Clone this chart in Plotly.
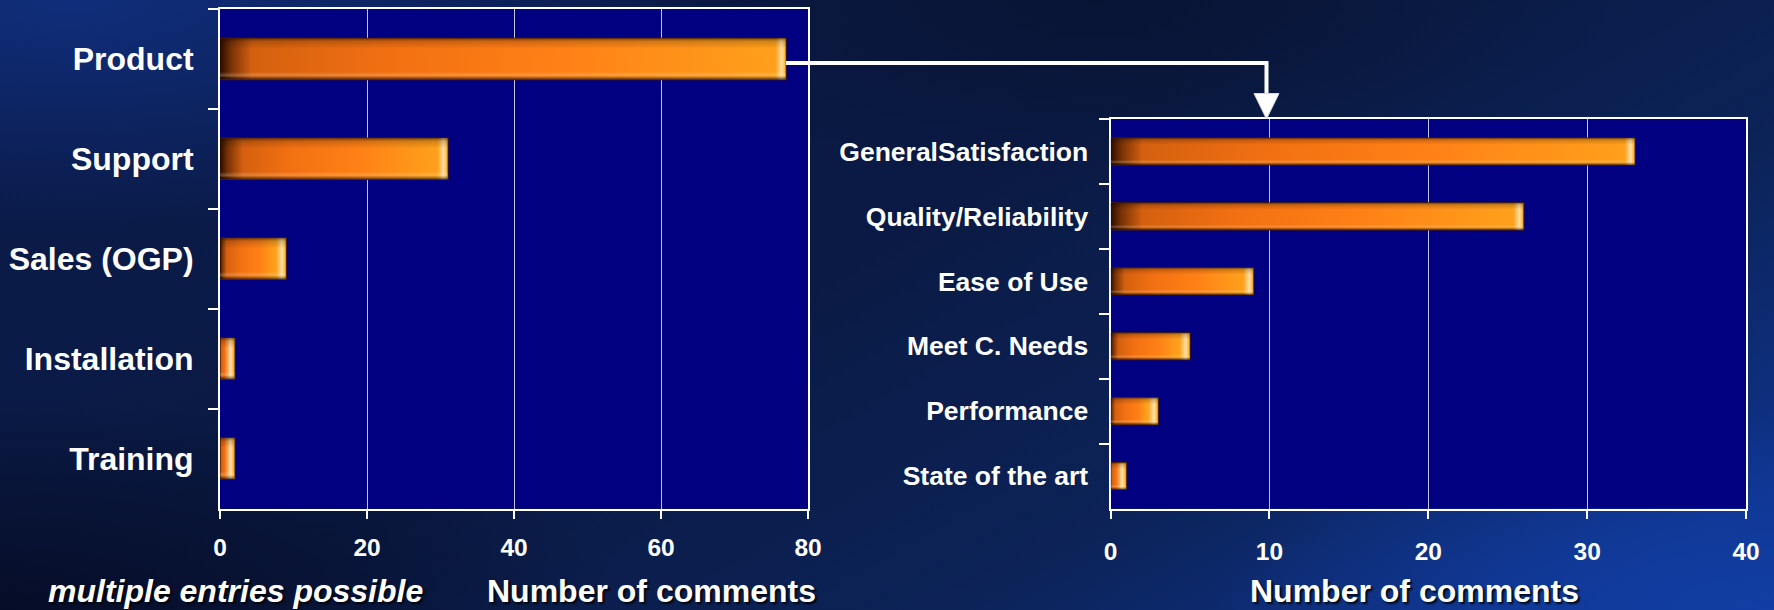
import base64
import plotly.graph_objects as go

# ---------------- data ----------------
main_categories = ["Product", "Support", "Sales (OGP)", "Installation", "Training"]
main_counts = [77, 31, 9, 2, 2]
main_ticks = [0, 20, 40, 60, 80]

product_categories = ["GeneralSatisfaction", "Quality/Reliability", "Ease of Use",
                      "Meet C. Needs", "Performance", "State of the art"]
product_counts = [33, 26, 9, 5, 3, 1]
product_ticks = [0, 10, 20, 30, 40]

x_title = "Number of comments"
note_text = "multiple entries possible"

# ---------------- geometry (pixels) ----------------
W, H = 1774, 610
L_X = (220, 808)
L_Y = (9, 508.5)
R_X = (1110.5, 1746)
R_Y = (119, 508.5)
BARGAP = 0.59


def px_x(v):
    return v / W


def px_y(v):
    return 1 - v / H


FONT = "Arial, 'Liberation Sans', Helvetica, sans-serif"
BAR_COLOR = "#f27614"
BAR_LINE = "#4a1f00"
PLOT_BG = "#000080"
GRID = "#c4c4ec"


def svg_uri(svg):
    return "data:image/svg+xml;base64," + base64.b64encode(svg.encode()).decode()


# ---------------- background gradient (SVG) ----------------
bg_svg = f"""<svg xmlns='http://www.w3.org/2000/svg' width='{W}' height='{H}' viewBox='0 0 {W} {H}' preserveAspectRatio='none'>
<defs>
<linearGradient id='base' x1='0' y1='0.2' x2='1' y2='0.8'>
<stop offset='0' stop-color='#0b1a48'/>
<stop offset='0.45' stop-color='#0a1a44'/>
<stop offset='0.75' stop-color='#0c2358'/>
<stop offset='1' stop-color='#0f338c'/>
</linearGradient>
<radialGradient id='tl' cx='0.04' cy='0.0' r='0.38'>
<stop offset='0' stop-color='#103080' stop-opacity='0.9'/>
<stop offset='1' stop-color='#103080' stop-opacity='0'/>
</radialGradient>
<radialGradient id='bl' cx='0.0' cy='1.0' r='0.35'>
<stop offset='0' stop-color='#050a22' stop-opacity='0.85'/>
<stop offset='1' stop-color='#050a22' stop-opacity='0'/>
</radialGradient>
<radialGradient id='br' cx='1.0' cy='1.0' r='0.32'>
<stop offset='0' stop-color='#1240a8' stop-opacity='0.85'/>
<stop offset='1' stop-color='#1240a8' stop-opacity='0'/>
</radialGradient>
<radialGradient id='tm' cx='0.62' cy='0.0' r='0.3'>
<stop offset='0' stop-color='#08122e' stop-opacity='0.7'/>
<stop offset='1' stop-color='#08122e' stop-opacity='0'/>
</radialGradient>
</defs>
<rect width='{W}' height='{H}' fill='url(#base)'/>
<rect width='{W}' height='{H}' fill='url(#tl)'/>
<rect width='{W}' height='{H}' fill='url(#bl)'/>
<rect width='{W}' height='{H}' fill='url(#br)'/>
<rect width='{W}' height='{H}' fill='url(#tm)'/>
</svg>"""


# ---------------- cylinder-like texture for the bars ----------------
def bar_texture(length_px, thick_px):
    Lp = max(length_px, 2.0)
    T = thick_px
    dark = min(32.0, 0.1 * Lp)
    body = max(dark + 1, 0.3 * Lp)
    warm = max(body + 1, Lp - 12)
    cap0 = max(0.0, Lp - 10)
    return f"""<svg xmlns='http://www.w3.org/2000/svg' width='{Lp:.1f}' height='{T:.1f}' viewBox='0 0 {Lp:.1f} {T:.1f}' preserveAspectRatio='none'>
<defs>
<linearGradient id='h' gradientUnits='userSpaceOnUse' x1='0' y1='0' x2='{Lp:.1f}' y2='0'>
<stop offset='0' stop-color='#2a0c00'/>
<stop offset='{dark * 0.35 / Lp:.4f}' stop-color='#7a3206'/>
<stop offset='{dark / Lp:.4f}' stop-color='#d4600f'/>
<stop offset='{body / Lp:.4f}' stop-color='#f27012'/>
<stop offset='{min(0.99, max(body / Lp, 0.6)):.4f}' stop-color='#ff8016'/>
<stop offset='{warm / Lp:.4f}' stop-color='#ffa01c'/>
<stop offset='1' stop-color='#ffb024'/>
</linearGradient>
<linearGradient id='v' x1='0' y1='0' x2='0' y2='1'>
<stop offset='0' stop-color='#000000' stop-opacity='0.5'/>
<stop offset='0.07' stop-color='#000000' stop-opacity='0.18'/>
<stop offset='0.25' stop-color='#000000' stop-opacity='0'/>
<stop offset='0.82' stop-color='#ffffff' stop-opacity='0'/>
<stop offset='0.9' stop-color='#ffe6a0' stop-opacity='0.25'/>
<stop offset='0.96' stop-color='#000000' stop-opacity='0.3'/>
<stop offset='1' stop-color='#000000' stop-opacity='0.65'/>
</linearGradient>
<linearGradient id='c' gradientUnits='userSpaceOnUse' x1='{cap0:.1f}' y1='0' x2='{Lp:.1f}' y2='0'>
<stop offset='0' stop-color='#fff2d6' stop-opacity='0'/>
<stop offset='0.6' stop-color='#fff2d6' stop-opacity='0.75'/>
<stop offset='0.85' stop-color='#ffe0a0' stop-opacity='0.3'/>
<stop offset='1' stop-color='#7a3a00' stop-opacity='0.8'/>
</linearGradient>
</defs>
<rect x='0' y='0' width='{Lp:.1f}' height='{T:.1f}' fill='url(#h)'/>
<rect x='{cap0:.1f}' y='0' width='{Lp - cap0:.1f}' height='{T:.1f}' fill='url(#c)'/>
<rect x='0' y='0' width='{Lp:.1f}' height='{T:.1f}' fill='url(#v)'/>
</svg>"""


# ---------------- figure ----------------
fig = go.Figure()

fig.add_trace(go.Bar(
    x=main_counts, y=main_categories, orientation="h",
    marker=dict(color=BAR_COLOR, line=dict(color=BAR_LINE, width=1.5)),
    xaxis="x", yaxis="y", showlegend=False, hoverinfo="x+y",
))
fig.add_trace(go.Bar(
    x=product_counts, y=product_categories, orientation="h",
    marker=dict(color=BAR_COLOR, line=dict(color=BAR_LINE, width=1.5)),
    xaxis="x2", yaxis="y2", showlegend=False, hoverinfo="x+y",
))

axis_common = dict(
    showline=True, linecolor="white", linewidth=2, mirror=True,
    ticks="outside", tickcolor="white", tickwidth=2,
    zeroline=False, automargin=False,
)

images = [dict(source=svg_uri(bg_svg), xref="paper", yref="paper", x=0, y=1,
               sizex=1, sizey=1, xanchor="left", yanchor="top",
               sizing="stretch", layer="below")]

# textures laid over each bar, placed through the axes from the data values
bar_thick = 1 - BARGAP
for cats, vals, ticks, (x0p, x1p), (y0p, y1p), xr, yr in (
        (main_categories, main_counts, main_ticks, L_X, L_Y, "x", "y"),
        (product_categories, product_counts, product_ticks, R_X, R_Y, "x2", "y2")):
    band_px = (y1p - y0p) / len(cats)
    for i, v in enumerate(vals):
        length_px = v / ticks[-1] * (x1p - x0p)
        images.append(dict(
            source=svg_uri(bar_texture(length_px, bar_thick * band_px)),
            xref=xr, yref=yr, x=0, y=i, sizex=v, sizey=bar_thick,
            xanchor="left", yanchor="middle", sizing="stretch", layer="above"))

fig.update_layout(
    width=W, height=H,
    autosize=False,
    margin=dict(l=0, r=0, t=0, b=0, pad=0, autoexpand=False),
    paper_bgcolor="#0a1a44",
    plot_bgcolor=PLOT_BG,
    bargap=BARGAP,
    font=dict(family=FONT, color="white"),
    images=images,
    xaxis=dict(
        domain=[px_x(L_X[0]), px_x(L_X[1])], anchor="y",
        range=[main_ticks[0], main_ticks[-1]], tickvals=main_ticks,
        showgrid=True, gridcolor=GRID, gridwidth=1, ticklen=8,
        tickfont=dict(size=24.5, family=FONT, color="white", weight="bold"),
        ticklabelstandoff=8,
        **axis_common,
    ),
    yaxis=dict(
        domain=[px_y(L_Y[1]), px_y(L_Y[0])], anchor="x",
        categoryorder="array", categoryarray=main_categories, autorange="reversed",
        tickson="boundaries", ticklen=10, showgrid=False,
        tickfont=dict(size=32, family=FONT, color="white", weight="bold"),
        ticklabelstandoff=18,
        **axis_common,
    ),
    xaxis2=dict(
        domain=[px_x(R_X[0]), px_x(R_X[1])], anchor="y2",
        range=[product_ticks[0], product_ticks[-1]], tickvals=product_ticks,
        showgrid=True, gridcolor=GRID, gridwidth=1, ticklen=8,
        tickfont=dict(size=24.5, family=FONT, color="white", weight="bold"),
        ticklabelstandoff=12,
        **axis_common,
    ),
    yaxis2=dict(
        domain=[px_y(R_Y[1]), px_y(R_Y[0])], anchor="x2",
        categoryorder="array", categoryarray=product_categories, autorange="reversed",
        tickson="boundaries", ticklen=10, showgrid=False,
        tickfont=dict(size=26.5, family=FONT, color="white", weight="bold"),
        ticklabelstandoff=15,
        **axis_common,
    ),
)

# navy plot areas (drawn under gridlines and bars, above the page gradient)
for xr, yr in (("x domain", "y domain"), ("x2 domain", "y2 domain")):
    fig.add_shape(type="rect", xref=xr, yref=yr, x0=0, x1=1, y0=0, y1=1,
                  fillcolor=PLOT_BG, line=dict(width=0), layer="below")

shadow = "2px 2px 2px rgba(0,0,0,0.85)"
title_font = dict(size=32, family=FONT, color="white", weight="bold", shadow=shadow)
fig.add_annotation(text=x_title, xref="paper", yref="paper",
                   x=px_x(651), y=px_y(591), xanchor="center", yanchor="middle",
                   showarrow=False, font=title_font)
fig.add_annotation(text=x_title, xref="paper", yref="paper",
                   x=px_x(1414), y=px_y(591), xanchor="center", yanchor="middle",
                   showarrow=False, font=title_font)
fig.add_annotation(text=f"<i>{note_text}</i>", xref="paper", yref="paper",
                   x=px_x(235), y=px_y(591), xanchor="center", yanchor="middle",
                   showarrow=False,
                   font=dict(size=32, family=FONT, color="white", weight="bold",
                             style="italic", shadow=shadow))

# ---------------- connector arrow (from end of Product bar to the detail chart) ----------------
start_x = L_X[0] + main_counts[0] / main_ticks[-1] * (L_X[1] - L_X[0])
elbow_x = 1266.5
line_y = 63
head_top = 93.5
tip_y = R_Y[0]
fig.add_shape(type="path",
              path=(f"M {px_x(start_x)} {px_y(line_y)} L {px_x(elbow_x)} {px_y(line_y)} "
                    f"L {px_x(elbow_x)} {px_y(head_top + 1)}"),
              xref="paper", yref="paper", line=dict(color="white", width=4))
fig.add_shape(type="path",
              path=(f"M {px_x(elbow_x - 12.5)} {px_y(head_top)} L {px_x(elbow_x + 12.5)} {px_y(head_top)} "
                    f"L {px_x(elbow_x)} {px_y(tip_y)} Z"),
              xref="paper", yref="paper", fillcolor="white",
              line=dict(color="#d8d8d8", width=1))

fig.write_html("out.html", config={"displayModeBar": False},
               post_script="document.body.style.margin='0';document.body.style.overflow='hidden';")
